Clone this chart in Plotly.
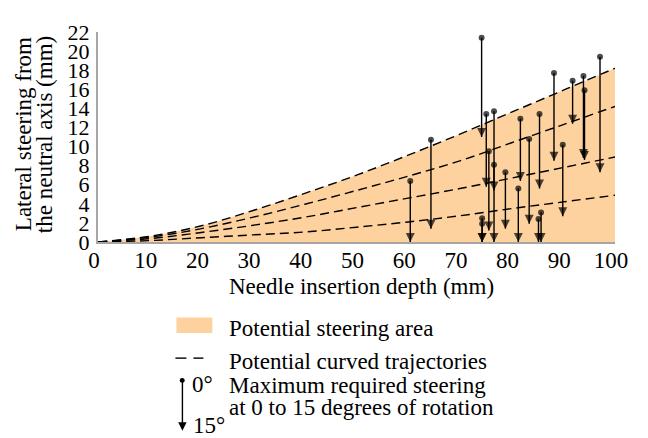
import plotly.graph_objects as go

# ---- data ----
curve_x = [0, 10, 20, 30, 40, 50, 60, 70, 80, 90, 100]
traj_1 = [0, 0.6, 1.7, 3.3, 5.1, 7.0, 9.1, 11.3, 13.6, 15.9, 18.2]   # upper bound of steering area
traj_2 = [0, 0.5, 1.4, 2.6, 3.95, 5.4, 6.9, 8.5, 10.4, 12.3, 14.2]
traj_3 = [0, 0.35, 1.0, 1.75, 2.6, 3.6, 4.6, 5.6, 6.7, 7.8, 8.9]
traj_4 = [0, 0.15, 0.45, 0.75, 1.05, 1.55, 2.1, 2.75, 3.5, 4.2, 4.9]

depth = [60.4, 64.4, 74.2, 74.3, 74.3, 75.1, 75.6, 76.6, 76.6, 78.8, 81.3,
         81.7, 83.4, 85.4, 85.2, 85.7, 88.2, 89.9, 91.8, 93.9, 94.1, 97.1]
steer_0deg = [6.4, 10.7, 21.4, 2.5, 1.9, 13.4, 9.5, 13.7, 8.1, 7.3, 5.6,
              12.9, 10.8, 13.4, 2.4, 3.1, 17.7, 10.2, 16.9, 17.4, 15.9, 19.4]
steer_15deg = [0.0, 1.4, 11.0, 0.0, 0.0, 5.8, 1.2, 5.4, 0.0, 1.4, 0.0,
               6.4, 1.9, 5.6, 0.0, 0.0, 8.5, 2.7, 12.4, 8.8, 8.6, 7.3]

x_ticks = list(range(0, 101, 10))
y_ticks = list(range(0, 23, 2))

FONT = "Liberation Serif"
FS = 23
FILL = "#FDD29F"

fig = go.Figure()

# steering area
fig.add_trace(go.Scatter(x=curve_x, y=traj_1, mode="lines", line=dict(width=0, shape="spline"),
                         fill="tozeroy", fillcolor=FILL, hoverinfo="skip", showlegend=False))

# trajectories
for tr in (traj_1, traj_2, traj_3, traj_4):
    fig.add_trace(go.Scatter(x=curve_x, y=tr, mode="lines",
                             line=dict(color="black", width=1.4, dash="9px,5px", shape="spline"),
                             showlegend=False))

# arrows
ax_x, ax_y, syms, sizes = [], [], [], []
for d, t, b in zip(depth, steer_0deg, steer_15deg):
    ax_x += [d, d, None]
    ax_y += [t, b, None]
    syms += ["circle", "arrow-down", "circle"]
    sizes += [6, 9, 0]
fig.add_trace(go.Scatter(x=ax_x, y=ax_y, mode="lines+markers",
                         line=dict(color="black", width=1.4),
                         marker=dict(color="black", symbol=syms, size=sizes, line=dict(width=0)),
                         showlegend=False, connectgaps=False))

# page is offset by the body margin of the browser
OFF = 8
W, H = 648 - OFF, 438 - OFF
# plot area in screen pixels: x 97.5..615, y 25..242
L = 97.5 - OFF
T = 25 - OFF
R = W - (615 - OFF)
B = H - (242 - OFF)
pw, ph = W - L - R, H - T - B


def px(x):  # screen px -> paper
    return (x - OFF - L) / pw


def py(y):
    return (H - B - (y - OFF)) / ph


fig.update_layout(
    width=W, height=H,
    margin=dict(l=L, r=R, t=T, b=B, pad=0),
    plot_bgcolor="white", paper_bgcolor="white",
    font=dict(family=FONT, size=FS, color="black"),
    xaxis=dict(range=[0, 100], tickvals=x_ticks, showgrid=False, zeroline=False,
               showline=True, linecolor="#A6A6A6", linewidth=2, ticks="",
               tickfont=dict(size=FS), ticklabelshift=-4, ticklabelstandoff=-4, fixedrange=True),
    yaxis=dict(range=[0, 22], tickvals=y_ticks, showgrid=False, zeroline=False,
               showline=True, linecolor="#A6A6A6", linewidth=2, ticks="",
               tickfont=dict(size=22), ticklabelstandoff=2, fixedrange=True),
)


def text(xs, ys, s, anchor="left", angle=0):
    return dict(x=px(xs), y=py(ys), xref="paper", yref="paper", text=s, textangle=angle,
                showarrow=False, xanchor=anchor, yanchor="middle", font=dict(size=FS))


ann = [
    text(361, 288, "Needle insertion depth (mm)", "center"),
    text(23, 131, "Lateral steering from", "center", -90),
    text(44, 131, "the neutral axis (mm)", "center", -90),
    text(227, 331, "Potential steering area"),
    text(227, 365, "Potential curved trajectories"),
    text(227, 390, "Maximum required steering"),
    text(227, 413, "at 0 to 15 degrees of rotation"),
    text(190, 389, "0°"),
    text(191, 432, "15°"),
]
# legend arrow
ann.append(dict(x=px(182), y=py(437), ax=0, ay=-51, xref="paper", yref="paper",
                axref="pixel", ayref="pixel", text="", showarrow=True, arrowhead=2,
                arrowsize=1.2, arrowwidth=1.4, arrowcolor="black"))
fig.update_layout(annotations=ann)

shapes = [
    dict(type="rect", xref="paper", yref="paper", x0=px(176), x1=px(212),
         y0=py(336), y1=py(320), fillcolor=FILL, line=dict(width=0)),
    dict(type="line", xref="paper", yref="paper", x0=px(175), x1=px(186),
         y0=py(362), y1=py(362), line=dict(color="black", width=1.4)),
    dict(type="line", xref="paper", yref="paper", x0=px(193), x1=px(203),
         y0=py(362), y1=py(362), line=dict(color="black", width=1.4)),
    dict(type="circle", xref="paper", yref="paper", x0=px(179.3), x1=px(184.3),
         y0=py(382.5), y1=py(387.5), fillcolor="black", line=dict(width=0)),
]
fig.update_layout(shapes=shapes)

fig.write_html("out.html")
